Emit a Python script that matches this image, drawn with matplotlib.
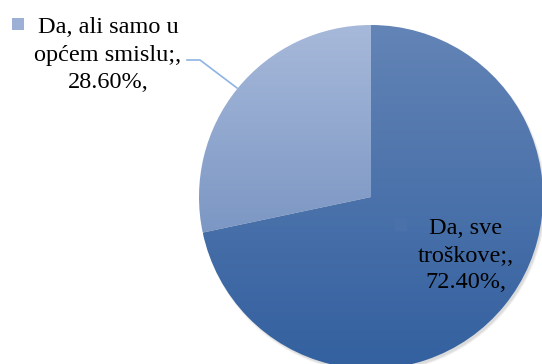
import numpy as np
import matplotlib.pyplot as plt
from matplotlib.colors import LinearSegmentedColormap

plt.rcParams['font.family'] = ['Liberation Serif', 'DejaVu Serif']

categories = ['Da, sve troškove;', 'Da, ali samo u općem smislu;']
values = [72.40, 28.60]
label_lines = [
    ['Da, sve', 'troškove;,', '72.40%,'],
    ['Da, ali samo u', 'općem smislu;,', '28.60%,'],
]
# top / bottom colours of each slice's vertical gradient
grad_colors = [('#6384b6', '#33609f'), ('#a7b9da', '#7c97c4')]
marker_colors = ['#4b71aa', '#9cb0d6']

W, H = 542, 364
fig = plt.figure(figsize=(W / 100, H / 100), dpi=100)
ax = fig.add_axes([0, 0, 1, 1])

cx, cy, r = 371, H - 197, 172
wedges, _ = ax.pie(values, startangle=90, counterclock=False,
                   center=(cx, cy), radius=r,
                   wedgeprops=dict(linewidth=0, edgecolor='none'))

# soft shadow under the pie
for k in range(6):
    sh = plt.Circle((cx + 2, cy - 3), r + 1 - k * 0.4, color='#000000',
                    alpha=0.025, zorder=0, lw=0)
    ax.add_patch(sh)

for w, (top, bot) in zip(wedges, grad_colors):
    w.set_facecolor('none')
    ext = w.get_path().get_extents(w.get_patch_transform())
    cmap = LinearSegmentedColormap.from_list('g', [bot, top])
    grad = np.linspace(0, 1, 256).reshape(-1, 1)
    im = ax.imshow(grad, cmap=cmap, origin='lower', aspect='auto',
                   extent=(ext.x0, ext.x1, ext.y0, ext.y1), zorder=1,
                   interpolation='bilinear')
    im.set_clip_path(w)

font = dict(fontsize=17.5, color='black')

# label for the big slice, inside the pie
for line, yb in zip(label_lines[0], [234, 262, 288]):
    ax.text(466, H - yb, line, ha='center', va='baseline', zorder=3, **font)
ax.scatter([401], [H - 224.5], marker='s', s=75, color=marker_colors[0],
           zorder=3, linewidths=0)

# label for the small slice, outside with leader line
for line, yb in zip(label_lines[1], [33, 61, 88]):
    ax.text(108, H - yb, line, ha='center', va='baseline', zorder=3, **font)
ax.scatter([18], [H - 23.5], marker='s', s=75, color=marker_colors[1],
           zorder=3, linewidths=0)
ax.plot([187, 200, 237], [H - 60, H - 60, H - 88], color='#8eb4e3',
        lw=1.2, zorder=2)

ax.set_xlim(0, W)
ax.set_ylim(0, H)
ax.axis('off')
fig.savefig('out.png', dpi=100)
